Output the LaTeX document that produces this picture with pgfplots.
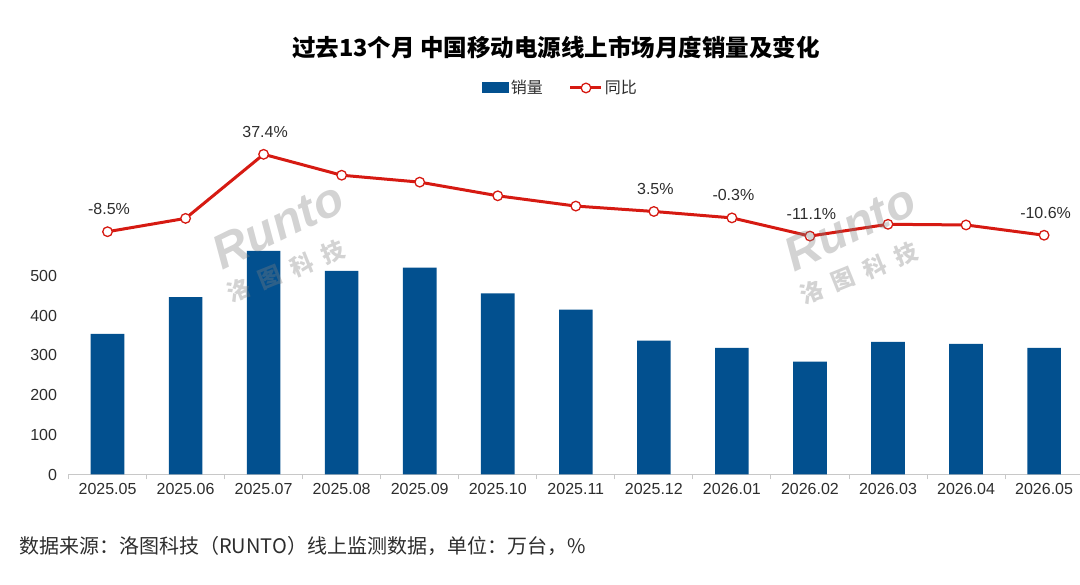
\documentclass[border=0pt]{standalone}
\usepackage{fontspec}
\setmainfont{Liberation Sans}
\newfontfamily\cjk{Noto Sans CJK SC}
\usepackage{pgfplots}
\pgfplotsset{compat=1.18}
\definecolor{barblue}{RGB}{2,80,143}
\definecolor{linered}{RGB}{214,26,18}
\definecolor{txt}{RGB}{45,45,45}
\definecolor{axgray}{RGB}{200,200,200}
\pgfplotsset{
  barlegend/.style={legend image code/.code={\fill[barblue] (0pt,-5.5pt) rectangle (27pt,5.5pt);}},
  linelegend/.style={legend image code/.code={\draw[linered, line width=3pt] (0pt,0pt) -- (31pt,0pt); \draw[linered, line width=1.3pt, fill=white] (15.5pt,0pt) circle (4.8pt);}},
}
\begin{document}
\begin{tikzpicture}[x=1pt,y=1pt]
\path[use as bounding box] (0,0) rectangle (1080,585);
\node[font=\cjk\bfseries\fontsize{23.5}{28}\selectfont, text=black] at (556,538) {过去13个月 中国移动电源线上市场月度销量及变化};
\begin{axis}[
  at={(68.5pt,110.5pt)}, anchor=south west, scale only axis,
  width=1011.5pt, height=334.5pt,
  xmin=-0.5, xmax=12.46, ymin=0, ymax=842.6,
  axis x line*=bottom, axis y line*=left,
  x axis line style={-, draw=axgray, line width=0.9pt},
  y axis line style={draw=none},
  major tick length=0pt,
  xtick={0,...,12},
  xticklabels={2025.05,2025.06,2025.07,2025.08,2025.09,2025.10,2025.11,2025.12,2026.01,2026.02,2026.03,2026.04,2026.05},
  ytick={0,100,200,300,400,500},
  extra x ticks={-0.5,0.5,1.5,2.5,3.5,4.5,5.5,6.5,7.5,8.5,9.5,10.5,11.5},
  extra x tick labels={},
  extra x tick style={major tick length=5pt, tick align=outside, tick style={draw=axgray, line width=0.9pt}},
  /pgf/number format/assume math mode=true,
  tick label style={font=\fontsize{16}{19}\selectfont, text=txt},
  xticklabel style={yshift=-5pt},
  yticklabel style={xshift=-8pt},
  legend style={at={(0.4864,1.1555)}, anchor=center, draw=none, fill=none,
    legend columns=2, font=\cjk\fontsize{16}{19}\selectfont, text=txt,
    /tikz/every even column/.append style={column sep=24pt},
    nodes={inner sep=2pt}},
]
\addplot[ybar, bar width=33.6pt, fill=barblue, draw=none, barlegend]
  coordinates {(0,354) (1,447) (2,563) (3,513) (4,521) (5,456) (6,415) (7,337) (8,319) (9,284) (10,334) (11,329) (12,319)};
\addlegendentry{销量}
\addlegendimage{linelegend}
\addlegendentry{同比}
\end{axis}
\begin{axis}[
  at={(68.5pt,110.5pt)}, anchor=south west, scale only axis,
  width=1011.5pt, height=334.5pt,
  xmin=-0.5, xmax=12.46, ymin=-152.5, ymax=45.9,
  hide axis, clip=false,
]
\addplot[linered, line width=3pt, mark=*, mark size=4.8pt, mark options={fill=white, draw=linered, line width=1.3pt}]
  coordinates {(0,-8.5) (1,-0.6) (2,37.4) (3,25.0) (4,20.9) (5,12.8) (6,6.7) (7,3.5) (8,-0.3) (9,-11.1) (10,-4.1) (11,-4.5) (12,-10.6)};
\addplot[draw=none, mark=none, nodes near coords, point meta=explicit symbolic,
  every node near coord/.append style={anchor=center, yshift=22.5pt, xshift=1.5pt, font=\fontsize{16}{19}\selectfont, text=txt}]
  coordinates {(0,-8.5) [-8.5\%] (2,37.4) [37.4\%] (7,3.5) [3.5\%] (8,-0.3) [-0.3\%] (9,-11.1) [-11.1\%] (12,-10.6) [-10.6\%]};
\end{axis}
% watermarks
\node[rotate=26, text=gray, text opacity=0.35, inner sep=0pt, font=\bfseries\itshape\fontsize{48}{48}\selectfont] at (278,360) {Runto};
\node[rotate=22, text=gray, text opacity=0.35, inner sep=0pt, font=\cjk\bfseries\fontsize{23}{23}\selectfont] at (286,314) {洛\hspace{11pt}图\hspace{11pt}科\hspace{11pt}技};
\node[rotate=26, text=gray, text opacity=0.35, inner sep=0pt, font=\bfseries\itshape\fontsize{48}{48}\selectfont] at (850,358) {Runto};
\node[rotate=22, text=gray, text opacity=0.35, inner sep=0pt, font=\cjk\bfseries\fontsize{23}{23}\selectfont] at (859,312) {洛\hspace{11pt}图\hspace{11pt}科\hspace{11pt}技};
\node[anchor=west, inner sep=0pt, font=\cjk\fontsize{20}{24}\selectfont, text=txt] at (19,39) {数据来源：洛图科技（RUNTO）线上监测数据，单位：万台，\%};
\end{tikzpicture}
\end{document}
